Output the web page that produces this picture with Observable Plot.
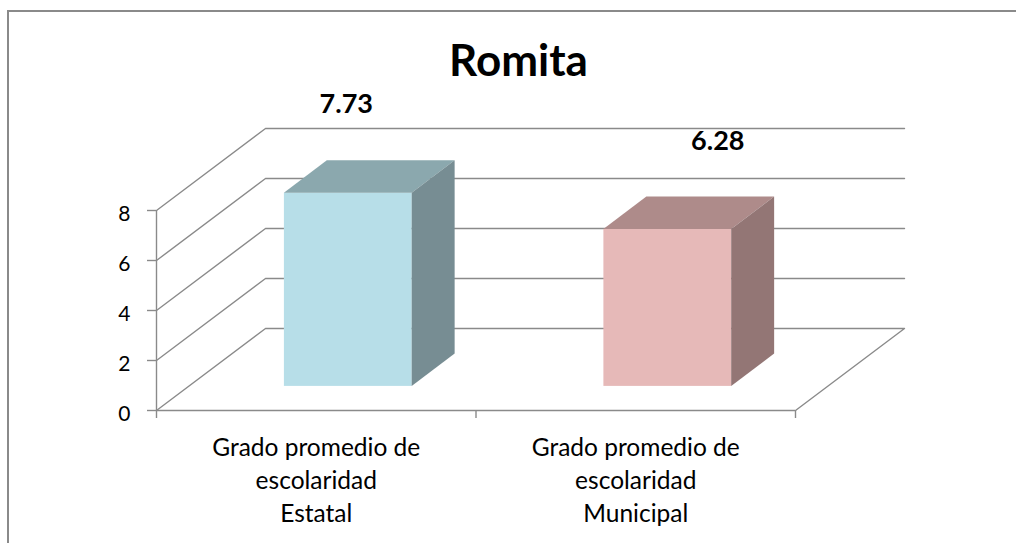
<!DOCTYPE html>
<html>
<head>
<meta charset="utf-8">
<script src="https://cdn.jsdelivr.net/npm/d3@7"></script>
<script src="https://cdn.jsdelivr.net/npm/@observablehq/plot@0.6"></script>
<style>
  html, body { margin: 0; padding: 0; background: #fff; }
  #wrap { position: relative; width: 1016px; height: 543px; overflow: hidden; background: #fff; }
  #border { position: absolute; left: 7px; top: 10px; width: 1100px; height: 600px;
            border-top: 2px solid #8a8a8a; border-left: 2px solid #8a8a8a; }
  #chart { position: absolute; left: 0; top: 0; }
</style>
</head>
<body>
<div id="wrap"><div id="border"></div><div id="chart"></div></div>
<script>
// ---- data ----
const title = "Romita";
const categories = ["Grado promedio de\nescolaridad\nEstatal", "Grado promedio de\nescolaridad\nMunicipal"];
const values = [7.73, 6.28];
const valueLabels = ["7.73", "6.28"];
const yTicks = [0, 2, 4, 6, 8];

// ---- style / projection ----
const frontColors = ["#B7DEE8", "#E6B9B8"];
const topColors   = ["#8BA8AE", "#AE8B8A"];
const sideColors  = ["#778D93", "#937675"];
const gridColor = "#8a8a8a";
const DX = 109 / 319.5;   // full-depth shift in x units
const DY = 82 / 25;       // full-depth shift in y units
const BF = 0.294, BB = 0.688; // bar front / back depth fraction
const BL = 0.3, BR = 0.7;     // bar left/right within band
const n = categories.length;
const yMax = yTicks[yTicks.length - 1];

// grid (walls + floor)
const grid = [];
yTicks.forEach(v => {
  grid.push({k: v, x: 0, y: v});
  grid.push({k: v, x: DX, y: v + DY});
  grid.push({k: v, x: n + DX, y: v + DY});
  if (v === 0) grid.push({k: v, x: n, y: 0});
});

const bars = values.map((v, i) => ({i, v}));
const topFace = bars.flatMap(({i, v}) => [
  {i, y: v + BF * DY, x1: i + BL + BF * DX, x2: i + BR + BF * DX, fill: topColors[i]},
  {i, y: v + BB * DY, x1: i + BL + BB * DX, x2: i + BR + BB * DX, fill: topColors[i]}
]);
const sideFace = bars.flatMap(({i, v}) => [
  {i, x: i + BR + BF * DX, y1: BF * DY, y2: v + BF * DY, fill: sideColors[i]},
  {i, x: i + BR + BB * DX, y1: BB * DY, y2: v + BB * DY, fill: sideColors[i]}
]);

const labelDx = [-2, 50];

const plot = Plot.plot({
  width: 1016,
  height: 543,
  margin: 0,
  x: {type: "linear", domain: [0, n], range: [156, 795], axis: null},
  y: {type: "linear", domain: [0, yMax], range: [410, 210], axis: null},
  color: {type: "identity"},
  style: {fontFamily: "Lato, 'Open Sans', sans-serif", color: "#000", background: "transparent"},
  marks: [
    Plot.line(grid, {x: "x", y: "y", z: "k", stroke: gridColor, strokeWidth: 1.4}),
    Plot.rect(bars, {x1: d => d.i + BL + BF * DX, x2: d => d.i + BR + BF * DX,
                     y1: BF * DY, y2: d => d.v + BF * DY, fill: d => frontColors[d.i]}),
    Plot.areaX(topFace, {y: "y", x1: "x1", x2: "x2", z: "i", fill: "fill"}),
    Plot.areaY(sideFace, {x: "x", y1: "y1", y2: "y2", z: "i", fill: "fill"}),
    // front axes
    Plot.ruleX([0], {y1: 0, y2: yMax, stroke: gridColor, strokeWidth: 1.4}),
    Plot.ruleY([0], {x1: 0, x2: n, stroke: gridColor, strokeWidth: 1.4}),
    Plot.ruleY(yTicks, {x1: 0, x2: 0, insetLeft: -9, stroke: gridColor, strokeWidth: 1.4}),
    Plot.ruleX(d3.range(n + 1), {y1: 0, y2: 0, insetBottom: -8, stroke: gridColor, strokeWidth: 1.4}),
    Plot.text(yTicks, {x: 0, y: d => d, text: d => String(d), textAnchor: "end", dx: -26, dy: 4,
                       fontSize: 21, fill: "#000"}),
    // category labels
    Plot.text(categories, {x: (d, i) => i + 0.5, y: 0, text: d => d, lineAnchor: "top",
                           dy: 22.5, lineHeight: 1.347, fontSize: 24.5, fill: "#000"}),
    // value labels
    ...bars.map(b => Plot.text([b], {x: d => d.i + 0.5 + BF * DX, y: d => d.v + BB * DY,
                           text: d => valueLabels[d.i], dx: labelDx[b.i], dy: -56,
                           fontSize: 27, fontWeight: "bold", fill: "#000"})),
    // title
    Plot.text([title], {frameAnchor: "top", lineAnchor: "top", text: d => d, dx: 10, dy: 44,
                        fontSize: 44, fontWeight: "bold", fill: "#000"})
  ]
});
document.getElementById("chart").appendChild(plot);
</script>
</body>
</html>
